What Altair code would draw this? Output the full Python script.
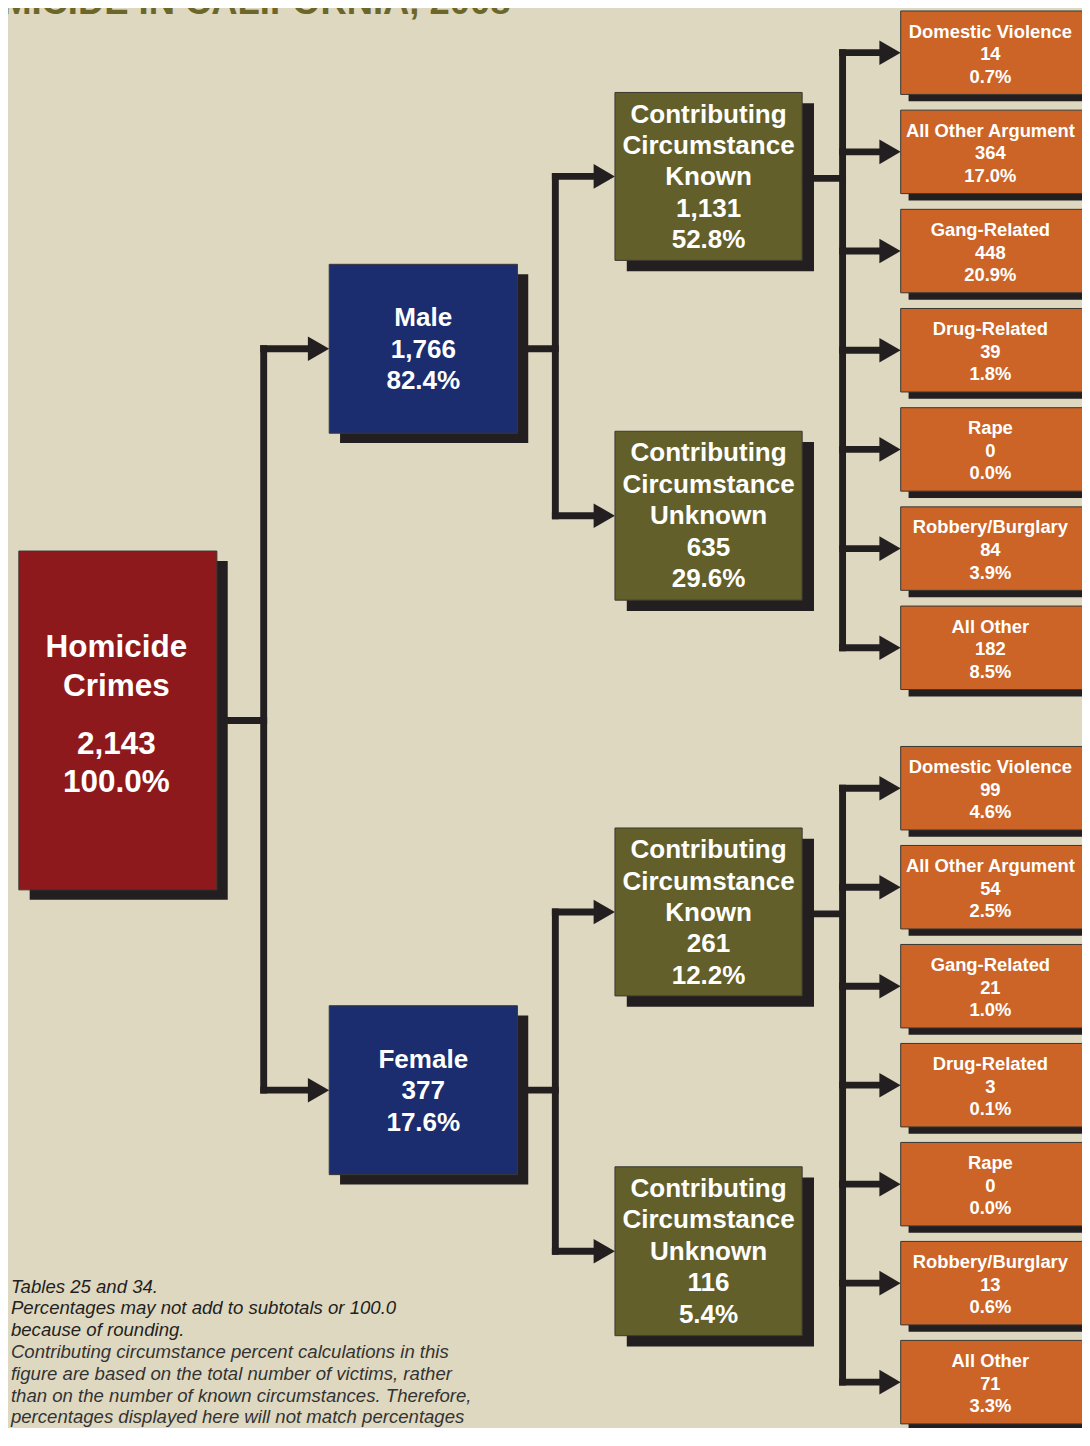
import math
import altair as alt
import pandas as pd

# ---------------- data ----------------
title_text = "HOMICIDE IN CALIFORNIA, 2008"
root_name = ["Homicide", "Crimes"]
root_count = 2143
root_pct = 100.0

genders = ["Male", "Female"]
gender_counts = [1766, 377]
gender_pcts = [82.4, 17.6]

cc_names = ["Known", "Unknown"]
cc_counts = {"Male": [1131, 635], "Female": [261, 116]}
cc_pcts = {"Male": [52.8, 29.6], "Female": [12.2, 5.4]}

circ_names = ["Domestic Violence", "All Other Argument", "Gang-Related",
              "Drug-Related", "Rape", "Robbery/Burglary", "All Other"]
circ_counts = {"Male": [14, 364, 448, 39, 0, 84, 182],
               "Female": [99, 54, 21, 3, 0, 13, 71]}
circ_pcts = {"Male": [0.7, 17.0, 20.9, 1.8, 0.0, 3.9, 8.5],
             "Female": [4.6, 2.5, 1.0, 0.1, 0.0, 0.6, 3.3]}

footnote_lines = [
    "Tables 25 and 34.",
    "Percentages may not add to subtotals or 100.0",
    "because of rounding.",
    "Contributing circumstance percent calculations in this",
    "figure are based on the total number of victims, rather",
    "than on the number of known circumstances. Therefore,",
    "percentages displayed here will not match percentages",
]

# ---------------- layout (reference pixel space) ----------------
REF_W, REF_H = 1090, 1446
W, H = 1074, 1420
FS = (W / REF_W + H / REF_H) / 2

C_ROOT, C_GENDER, C_CC, C_CIRC = "#8E191C", "#1B2D6E", "#625F2A", "#CC6427"
DARK = "#231F20"
BG = "#DFD8C0"
LW = 7
ARROW_BASE = 25
ARROW_LEN = ARROW_BASE * math.sqrt(3) / 2

col_left = [11, 326, 616, 906]
col_right = [212, 517, 806, 1094]
stem_x = [259.5, 555.5, 847]
shadow_off = [(11, 10), (11, 10), (12, 11), (8, 7)]

root_box = (553, 898)
gender_boxes = {"Male": (261, 433), "Female": (1016, 1188)}
cc_boxes = {"Male": [(86, 257), (431, 603)], "Female": [(835, 1006), (1180, 1352)]}
circ_top0 = {"Male": 3, "Female": 752}
circ_step = {"Male": 101, "Female": 100.8}
circ_h = 85

fmt_n = lambda n: f"{n:,}"
fmt_p = lambda p: f"{p:.1f}%"

boxes, shadows, conns, arrows, texts = [], [], [], [], []


def add_box(level, y0, y1, fill):
    x0, x1 = col_left[level], col_right[level]
    dx, dy = shadow_off[level]
    boxes.append(dict(x=x0, x2=x1, y=y0, y2=y1, fill=fill))
    shadows.append(dict(x=x0 + dx, x2=x1 + dx, y=y0 + dy, y2=y1 + dy))


def connect(level, py, child_ys):
    vx = stem_x[level]
    px = col_right[level]
    cl = col_left[level + 1]
    conns.append(dict(x=px, x2=vx + LW / 2, y=py - LW / 2, y2=py + LW / 2))
    conns.append(dict(x=vx - LW / 2, x2=vx + LW / 2,
                      y=min(child_ys + [py]) - LW / 2, y2=max(child_ys + [py]) + LW / 2))
    for cy in child_ys:
        conns.append(dict(x=vx - LW / 2, x2=cl - ARROW_LEN + 2, y=cy - LW / 2, y2=cy + LW / 2))
        arrows.append(dict(x=cl - ARROW_LEN / 2, y=cy))


# root
add_box(0, *root_box, C_ROOT)
rcx = (col_left[0] + col_right[0]) / 2 - 1.5
for txt, ty in zip(root_name + [fmt_n(root_count), fmt_p(root_pct)], [652, 691, 751, 789]):
    texts.append(dict(x=rcx, y=ty, text=txt, fs=32))
root_cy = sum(root_box) / 2
connect(0, root_cy, [sum(gender_boxes[g]) / 2 for g in genders])

for gi, g in enumerate(genders):
    gy0, gy1 = gender_boxes[g]
    add_box(1, gy0, gy1, C_GENDER)
    gcx = (col_left[1] + col_right[1]) / 2
    gcy = (gy0 + gy1) / 2
    for k, txt in enumerate([g, fmt_n(gender_counts[gi]), fmt_p(gender_pcts[gi])]):
        texts.append(dict(x=gcx, y=gcy - 32 + 32 * k + 1, text=txt, fs=26.5))
    connect(1, gcy, [sum(b) / 2 for b in cc_boxes[g]])

    for ci, cname in enumerate(cc_names):
        cy0, cy1 = cc_boxes[g][ci]
        add_box(2, cy0, cy1, C_CC)
        ccx = (col_left[2] + col_right[2]) / 2
        lines = ["Contributing", "Circumstance", cname,
                 fmt_n(cc_counts[g][ci]), fmt_p(cc_pcts[g][ci])]
        for k, txt in enumerate(lines):
            texts.append(dict(x=ccx, y=cy0 + 22.5 + 32 * k, text=txt, fs=26.5))

    # circumstances under "Known"
    ky0, ky1 = cc_boxes[g][0]
    child_ys = []
    for i, nm in enumerate(circ_names):
        top = circ_top0[g] + circ_step[g] * i
        add_box(3, top, top + circ_h, C_CIRC)
        child_ys.append(top + circ_h / 2)
        for k, txt in enumerate([nm, fmt_n(circ_counts[g][i]), fmt_p(circ_pcts[g][i])]):
            texts.append(dict(x=997, y=top + 21 + 23 * k, text=txt, fs=18.7))
    connect(2, (ky0 + ky1) / 2 + 2, child_ys)

foot = [dict(x=3, y=1302 + 22.2 * i, text=t,
             col=DARK if i < 3 else "#333333") for i, t in enumerate(footnote_lines)]
title_df = pd.DataFrame([dict(x=510, y=6, text=title_text)])

for t in texts:
    t["fs"] = t["fs"] * FS

xs = alt.Scale(domain=[0, REF_W], nice=False, zero=False)
ys = alt.Scale(domain=[0, REF_H], reverse=True, nice=False, zero=False)


def rect_enc():
    return dict(x=alt.X("x:Q", scale=xs, axis=None), x2="x2:Q",
                y=alt.Y("y:Q", scale=ys, axis=None), y2="y2:Q")


shadow_layer = alt.Chart(pd.DataFrame(shadows)).mark_rect(color=DARK).encode(**rect_enc())
conn_layer = alt.Chart(pd.DataFrame(conns)).mark_rect(color=DARK).encode(**rect_enc())
arrow_layer = alt.Chart(pd.DataFrame(arrows)).mark_point(
    shape="triangle-right", filled=True, opacity=1, color=DARK, strokeWidth=0,
    size=(ARROW_BASE * FS) ** 2).encode(
    x=alt.X("x:Q", scale=xs, axis=None), y=alt.Y("y:Q", scale=ys, axis=None))
box_layer = alt.Chart(pd.DataFrame(boxes)).mark_rect(stroke="#3A3833", strokeWidth=1).encode(
    color=alt.Color("fill:N", scale=None), **rect_enc())
text_layer = alt.Chart(pd.DataFrame(texts)).mark_text(
    font="Liberation Sans", fontWeight="bold", color="white",
    align="center", baseline="middle").encode(
    x=alt.X("x:Q", scale=xs, axis=None), y=alt.Y("y:Q", scale=ys, axis=None),
    text="text:N", size=alt.Size("fs:Q", scale=None))
foot_layer = alt.Chart(pd.DataFrame(foot)).mark_text(
    font="Liberation Sans", fontStyle="italic", fontSize=18.9 * FS,
    align="left", baseline="middle").encode(
    x=alt.X("x:Q", scale=xs, axis=None), y=alt.Y("y:Q", scale=ys, axis=None),
    text="text:N", color=alt.Color("col:N", scale=None))
title_layer = alt.Chart(title_df).mark_text(
    font="Liberation Sans", fontWeight="bold", fontSize=37 * FS, color="#6B6629",
    align="right", baseline="alphabetic").encode(
    x=alt.X("x:Q", scale=xs, axis=None), y=alt.Y("y:Q", scale=ys, axis=None),
    text="text:N")

chart = alt.layer(
    shadow_layer, conn_layer, arrow_layer, box_layer, text_layer, foot_layer, title_layer
).properties(
    width=W, height=H, padding=0,
    autosize=alt.AutoSizeParams(type="none"),
    background=BG,
).configure_view(stroke=None)

chart.save("out.html", embed_options={"renderer": "svg", "actions": False})
